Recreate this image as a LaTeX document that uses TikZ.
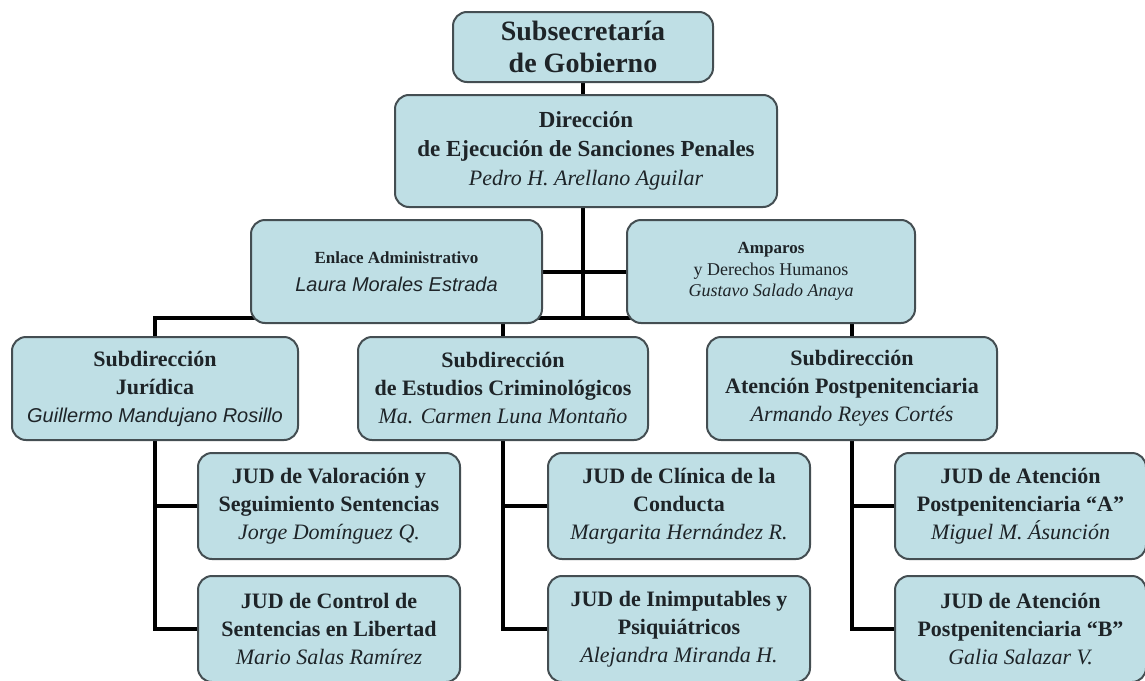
\documentclass[tikz,border=0pt]{standalone}
\usepackage{fontspec}
\setmainfont{Liberation Serif}
\newfontfamily\sansnombre{Liberation Sans}
\usetikzlibrary{backgrounds}
\definecolor{caja}{RGB}{191,223,229}
\definecolor{borde}{RGB}{68,78,82}
\definecolor{tinta}{RGB}{30,36,40}
\newcommand{\nombre}[1]{{\mdseries\itshape #1}}
\newcommand{\nombresans}[1]{{\mdseries\sansnombre\itshape #1}}

\begin{document}
\begin{tikzpicture}[
  x=1pt, y=-1pt,
  unidad/.style={draw=borde, fill=caja, line width=2pt, rounded corners=14pt,
    align=center, inner sep=0pt, text=tinta,
    font={\fontsize{22}{28}\selectfont\bfseries}},
  subdir/.style={unidad, minimum width=288pt, minimum height=103pt},
  jud/.style={unidad, minimum width=262pt, minimum height=106pt},
  linea/.style={line width=4pt, black},
  ]
  \useasboundingbox (0,0) rectangle (1145,680);
  % Top of the chart
  \node[unidad, minimum width=260pt, minimum height=70pt,
    font={\fontsize{28}{32}\selectfont\bfseries}] (subse) at (583,47)
    {Subsecretaría\\de Gobierno};
  \node[unidad, minimum width=382pt, minimum height=112pt,
    font={\fontsize{23}{29}\selectfont\bfseries}] (direc) at (586,151)
    {Dirección\\de Ejecución de Sanciones Penales\\
     \nombre{\fontsize{22}{29}\selectfont Pedro H. Arellano Aguilar}};
  % Staff units
  \node[subdir, minimum width=291pt] (enlace) at (396.5,271.5)
    {{\fontsize{17}{22}\selectfont Enlace Administrativo}\\
     \nombresans{\fontsize{20}{26}\selectfont Laura Morales Estrada}};
  \node[subdir, font={\fontsize{18}{21.5}\selectfont\bfseries}] (amparos) at (771,271.5)
    {{\fontsize{17}{21}\selectfont Amparos}\\
     {\mdseries y Derechos Humanos}\\
     \nombre{Gustavo Salado Anaya}};
  % Subdirecciones
  \coordinate (tronco) at (583,318);
  \node[subdir, minimum width=286pt] (jur) at (155,388.5)
    {Subdirección\\Jurídica\\
     \nombresans{\fontsize{20}{28}\selectfont Guillermo Mandujano Rosillo}};
  \node[subdir, minimum width=290pt] (crim) at (503,388.5)
    {Subdirección\\de Estudios Criminológicos\\\nombre{Ma. Carmen Luna Montaño}};
  \node[subdir, minimum width=290pt] (aten) at (852,388.5)
    {Subdirección\\Atención Postpenitenciaria\\\nombre{Armando Reyes Cortés}};
  % JUD
  \node[jud] (valor) at (329,506)
    {JUD de Valoración y\\Seguimiento Sentencias\\\nombre{Jorge Domínguez Q.}};
  \node[jud] (control) at (329,629)
    {JUD de Control de\\Sentencias en Libertad\\\nombre{Mario Salas Ramírez}};
  \node[jud] (clinica) at (679,506)
    {JUD de Clínica de la\\Conducta\\\nombre{Margarita Hernández R.}};
  \node[jud] (inimp) at (679,629)
    {JUD de Inimputables y\\Psiquiátricos\\\nombre{Alejandra Miranda H.}};
  \node[jud, minimum width=251pt] (atenA) at (1020.5,506)
    {JUD de Atención\\Postpenitenciaria “A”\\\nombre{Miguel M. Ásunción}};
  \node[jud, minimum width=251pt] (atenB) at (1020.5,629)
    {JUD de Atención\\Postpenitenciaria “B”\\\nombre{Galia Salazar V.}};
  % Connectors behind the boxes
  \begin{scope}[on background layer]
    \draw[linea] (subse.south) -- (subse.south |- direc.north);
    \draw[linea] (subse.south |- direc.south) -- (tronco);
    \draw[linea] (enlace.east) -- (amparos.west);
    \draw[linea] (jur.north) |- (tronco) -| (aten.north);
    \draw[linea] (crim.north |- tronco) -- (crim.north);
    \foreach \s/\a/\b in {jur/valor/control, crim/clinica/inimp, aten/atenA/atenB}{
      \draw[linea] (\s.south) |- (\b.west);
      \draw[linea] (\s.south |- \a.west) -- (\a.west);
    }
  \end{scope}
\end{tikzpicture}
\end{document}
